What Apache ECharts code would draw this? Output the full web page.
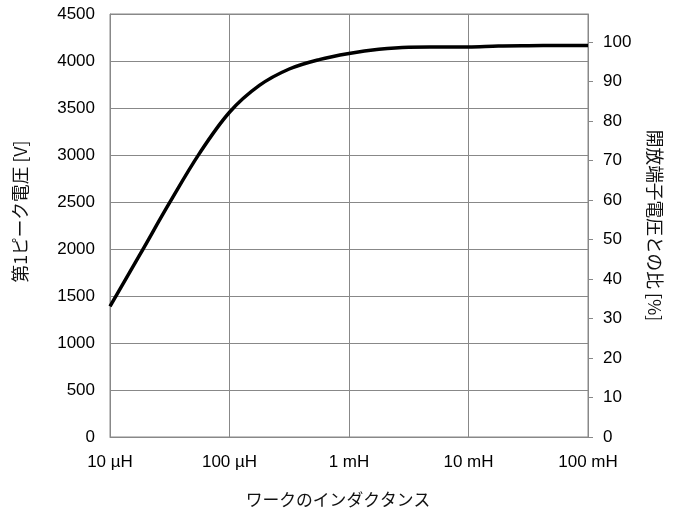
<!DOCTYPE html>
<html>
<head>
<meta charset="utf-8">
<script src="https://cdn.jsdelivr.net/npm/echarts@6/dist/echarts.min.js"></script>
<style>html,body{margin:0;padding:0;background:#fff}#c{width:674px;height:516px}</style>
</head>
<body>
<div id="c"></div>
<script>
// Inductance of the workpiece (H), quarter-decade steps
var inductance = [1e-5, 1.778e-5, 3.162e-5, 5.623e-5, 1e-4, 1.778e-4, 3.162e-4, 5.623e-4, 1e-3, 1.778e-3, 3.162e-3, 5.623e-3, 1e-2, 1.778e-2, 3.162e-2, 5.623e-2, 1e-1];
// First peak voltage (V)
var peakVoltage = [1390, 1940, 2495, 3020, 3455, 3740, 3915, 4015, 4080, 4125, 4147, 4149, 4150, 4160, 4163, 4164, 4165];
var xTickValues = [1e-5, 1e-4, 1e-3, 1e-2, 1e-1];
var xTickLabels = ['10 µH', '100 µH', '1 mH', '10 mH', '100 mH'];
var rightTicks = [0, 10, 20, 30, 40, 50, 60, 70, 80, 90, 100];
var openVoltage = 4200; // 100 % reference

var chart = echarts.init(document.getElementById('c'), null, {renderer: 'canvas'});
var lbl = {color: '#000', fontFamily: 'Liberation Sans, Arial, sans-serif', fontSize: 17};
function nameStyle(size, pad) {
  return {color: '#111', fontFamily: 'Noto Sans CJK JP, sans-serif', fontSize: size, padding: pad};
}
chart.setOption({
  animation: false,
  grid: {left: 110, right: 86, top: 14, bottom: 79, show: true, borderColor: '#888', borderWidth: 1},
  xAxis: {
    type: 'log', logBase: 10, min: 1e-5, max: 1e-1,
    name: 'ワークのインダクタンス', nameLocation: 'middle', nameGap: 54,
    nameTextStyle: nameStyle(16.8, [0, 22, 0, 0]),
    axisLine: {lineStyle: {color: '#888'}},
    axisTick: {show: false},
    minorTick: {show: false},
    axisLabel: Object.assign({margin: 17, formatter: function (v) {
      for (var i = 0; i < xTickValues.length; i++) {
        if (Math.abs(Math.log10(v) - Math.log10(xTickValues[i])) < 1e-6) return xTickLabels[i];
      }
      return '';
    }}, lbl),
    splitLine: {show: true, lineStyle: {color: '#888', width: 1}}
  },
  yAxis: [{
    type: 'value', min: 0, max: 4500, interval: 500,
    name: '第1ピーク電圧 [V]', nameLocation: 'middle', nameGap: 81, nameRotate: 90,
    nameTextStyle: nameStyle(17.7, [0, 0, 0, 28]),
    axisLine: {show: true, lineStyle: {color: '#888'}},
    axisTick: {show: false},
    axisLabel: Object.assign({margin: 15, formatter: function (v) { return String(v); }}, lbl),
    splitLine: {show: true, lineStyle: {color: '#888', width: 1}}
  }, {
    type: 'value', min: 0, max: 4500 / openVoltage * 100, position: 'right',
    name: '開放端子電圧との比 [%]', nameLocation: 'middle', nameGap: 58, nameRotate: -90,
    nameTextStyle: nameStyle(17.7, [0, 0, 0, 0]),
    axisLine: {show: true, lineStyle: {color: '#888'}},
    axisTick: {show: true, inside: false, length: 5, lineStyle: {color: '#888'}, customValues: rightTicks},
    axisLabel: Object.assign({margin: 15, customValues: rightTicks, formatter: function (v) { return String(v); }}, lbl),
    splitLine: {show: false}
  }],
  series: [{
    type: 'line', yAxisIndex: 0, smooth: 0.35, showSymbol: false, symbol: 'none',
    data: inductance.map(function (x, i) { return [x, peakVoltage[i]]; }),
    lineStyle: {color: '#000', width: 3.5}
  }]
});
</script>
</body>
</html>
